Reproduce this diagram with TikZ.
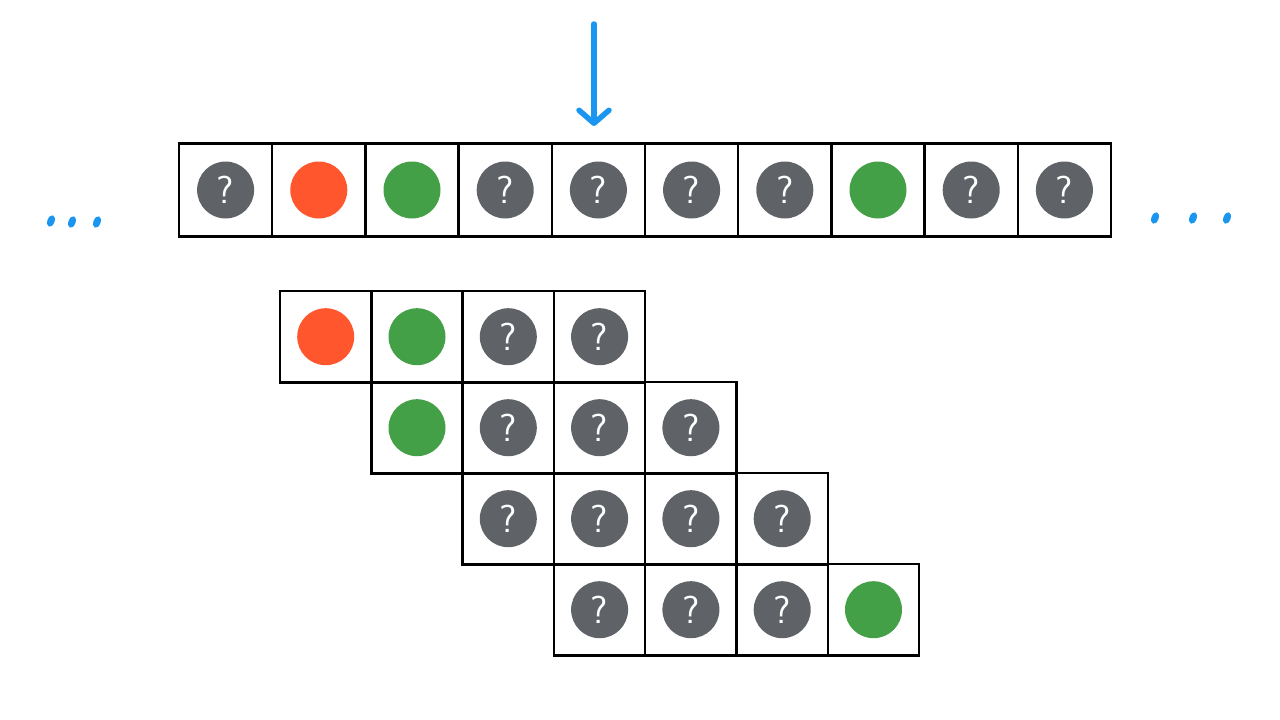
\documentclass[tikz,border=0pt]{standalone}
\usetikzlibrary{arrows.meta, positioning}
\definecolor{ballgray}{RGB}{95,99,104}
\definecolor{ballred}{RGB}{255,86,45}
\definecolor{ballgreen}{RGB}{67,160,71}
\definecolor{markblue}{RGB}{26,150,240}

\begin{document}
\begin{tikzpicture}[
    x=1pt, y=-1pt,
    cell/.style={rectangle, draw=black, line width=2.4pt, minimum size=#1, inner sep=0pt},
    cell/.default=93pt,
    ball/.style={circle, minimum size=57pt, inner sep=0pt},
    q/.style={ball, fill=ballgray, label={[text=white, font=\sffamily\fontsize{39}{39}\selectfont]center:?}},
    r/.style={ball, fill=ballred},
    g/.style={ball, fill=ballgreen},
    arrow/.style={-{Straight Barb[length=13pt, width=30pt, line cap=round, line join=round]}, line width=5.5pt, line cap=round, markblue},
    dot/.style={markblue}
]
\useasboundingbox (0,0) rectangle (1280,720);

% Stream of balls
\foreach \k/\b in {0/q, 1/r, 2/g, 3/q, 4/q, 5/q, 6/q, 7/g, 8/q, 9/q} {
    \node[cell=93.2pt] (top-\k) at ({225.6+93.2*\k},190) {};
    \node[\b] (topball-\k) at (top-\k) {};
}

% Sliding windows
\foreach \row/\list in {0/{r,g,q,q}, 1/{g,q,q,q}, 2/{q,q,q,q}, 3/{q,q,q,g}} {
    \foreach \b [count=\c from 0] in \list {
        \node[cell=91.3pt] (win-\row-\c) at ({325.7+91.3*\row+91.3*\c},{336.7+91*\row}) {};
        \node[\b] (winball-\row-\c) at (win-\row-\c) {};
    }
}

% Pointer
\coordinate (ptrstart) at (594,24);
\coordinate (ptrend) at (594,126);
\draw[arrow] (ptrstart) -- (ptrend);

% Ellipsis marks
\foreach \x/\y in {51/221, 72/222, 97/222, 1155/218, 1193/218, 1227/218}
    \fill[dot, shift={(\x,\y)}, rotate=-20] (0,0) ellipse [x radius=3.6pt, y radius=6pt];

\end{tikzpicture}
\end{document}
